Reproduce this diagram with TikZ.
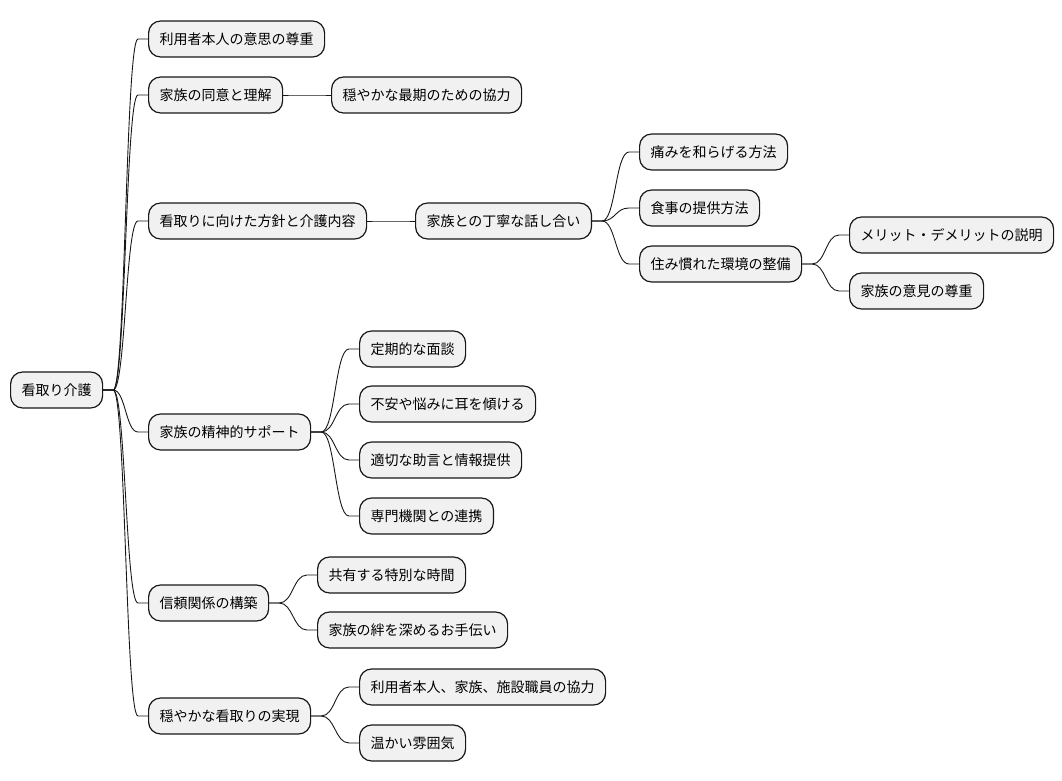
\documentclass[tikz,border=0pt]{standalone}
\usepackage{fontspec}
\setmainfont{Noto Sans CJK JP}
\usetikzlibrary{calc}
\definecolor{boxfill}{HTML}{F1F1F1}
\definecolor{boxline}{HTML}{181818}
\tikzset{
  mmnode/.style={draw=boxline, fill=boxfill, line width=1.2pt, rounded corners=12pt,
    minimum height=36pt, inner xsep=11pt, inner ysep=0pt, anchor=west,
    font=\fontsize{14pt}{17pt}\selectfont, text=black},
  mmline/.style={draw=boxline, line width=0.9pt}
}
\newcommand{\mmconn}[2]{%
  \draw[mmline] let \p1=(#1.east), \p2=(#2.west) in
    (\p1) -- (\x1+10pt,\y1) .. controls ({(\x1+\x2)/2},\y1) and ({(\x1+\x2)/2},\y2) .. (\x2-10pt,\y2) -- (\p2);}
\begin{document}
\begin{tikzpicture}[x=1pt,y=-1pt]
\useasboundingbox (0,0) rectangle (1062,781);
\node[mmnode] (r) at (10,390) {看取り介護};
\node[mmnode] (a) at (148,39) {利用者本人の意思の尊重};
\node[mmnode] (b) at (148,95) {家族の同意と理解};
\node[mmnode] (b1) at (331,95) {穏やかな最期のための協力};
\node[mmnode] (c) at (148,221) {看取りに向けた方針と介護内容};
\node[mmnode] (c1) at (415,221) {家族との丁寧な話し合い};
\node[mmnode] (c11) at (639,152) {痛みを和らげる方法};
\node[mmnode] (c12) at (639,208) {食事の提供方法};
\node[mmnode] (c13) at (639,264) {住み慣れた環境の整備};
\node[mmnode] (c131) at (849,235) {メリット・デメリットの説明};
\node[mmnode] (c132) at (849,291) {家族の意見の尊重};
\node[mmnode] (d) at (148,432) {家族の精神的サポート};
\node[mmnode] (d1) at (359,349) {定期的な面談};
\node[mmnode] (d2) at (359,404) {不安や悩みに耳を傾ける};
\node[mmnode] (d3) at (359,460) {適切な助言と情報提供};
\node[mmnode] (d4) at (359,516) {専門機関との連携};
\node[mmnode] (e) at (148,603) {信頼関係の構築};
\node[mmnode] (e1) at (317,575) {共有する特別な時間};
\node[mmnode] (e2) at (317,630) {家族の絆を深めるお手伝い};
\node[mmnode] (f) at (148,716) {穏やかな看取りの実現};
\node[mmnode] (f1) at (359,687) {利用者本人、家族、施設職員の協力};
\node[mmnode] (f2) at (359,743) {温かい雰囲気};
\mmconn{r}{a}
\mmconn{r}{b}
\mmconn{r}{c}
\mmconn{r}{d}
\mmconn{r}{e}
\mmconn{r}{f}
\mmconn{b}{b1}
\mmconn{c}{c1}
\mmconn{c1}{c11}
\mmconn{c1}{c12}
\mmconn{c1}{c13}
\mmconn{c13}{c131}
\mmconn{c13}{c132}
\mmconn{d}{d1}
\mmconn{d}{d2}
\mmconn{d}{d3}
\mmconn{d}{d4}
\mmconn{e}{e1}
\mmconn{e}{e2}
\mmconn{f}{f1}
\mmconn{f}{f2}
\end{tikzpicture}
\end{document}
